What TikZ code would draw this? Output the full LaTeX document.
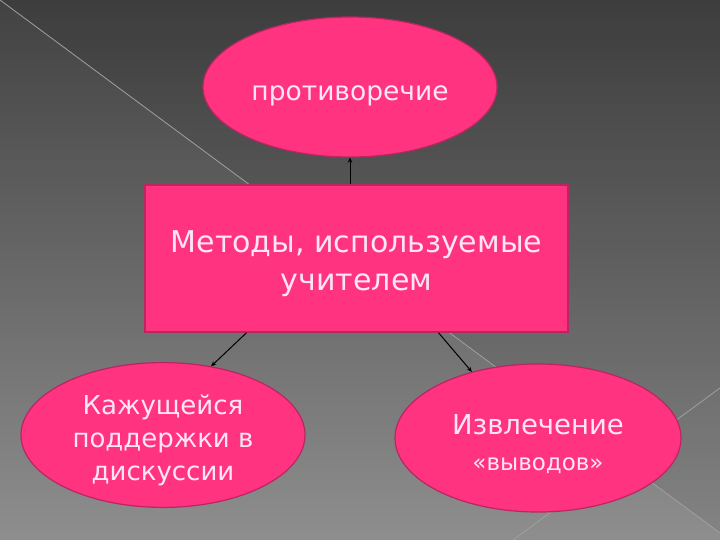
\documentclass[tikz,border=0pt]{standalone}
\usepackage{fontspec}
\setmainfont{DejaVu Sans}
\usetikzlibrary{shapes.geometric, arrows.meta}
\tikzstyle{slide} = [x = 1pt, y = -1pt]
\definecolor{slideTop}{RGB}{66,66,66}
\definecolor{slideBottom}{RGB}{142,142,142}
\definecolor{shapePink}{RGB}{255,51,128}
\definecolor{shapeEdge}{RGB}{185,38,98}
\definecolor{textPink}{RGB}{255,230,242}
\definecolor{stripeColor}{RGB}{160,160,160}
\tikzstyle{ovalStyle} = [ellipse, fill=shapePink, draw=shapeEdge, line width=1.2pt, text=textPink, align=center, inner sep=0pt]
\tikzstyle{boxStyle} = [rectangle, fill=shapePink, draw=shapeEdge, line width=1.5pt, text=textPink, align=center, inner sep=0pt]
\tikzstyle{linkStyle} = [-{Stealth[length=5pt, width=4.5pt]}, black, line width=1pt]
\tikzstyle{stripeStyle} = [stripeColor, line width=0.8pt]
\newcommand{\slideFont}[2]{\fontsize{#1}{#2}\selectfont}
% invisible strut on the first line, pushes the text a bit lower
\newcommand{\topGap}[1]{\rule{0pt}{#1}}

\begin{document}
\begin{tikzpicture}[slide]
  \useasboundingbox (0,0) rectangle (720,540);
  \shade [top color=slideTop, bottom color=slideBottom] (0,0) rectangle (720,540);
  \fill [black, opacity=0.07] (0,0) -- (720,0) -- (720,533) -- cycle;
  \draw [stripeStyle] (0,0) -- (720,533);
  \draw [stripeStyle] (513,540) -- (720,388);

  \node [ovalStyle, minimum width=294pt, minimum height=140pt, font=\slideFont{26.5}{30}] (contra) at (350,87)
    {\topGap{33pt}противоречие};
  \node [boxStyle, minimum width=423pt, minimum height=147pt, font=\slideFont{30}{38}] (methods) at (356.5,258.5)
    {\topGap{32pt}Методы, используемые\\учителем};
  \node [ovalStyle, minimum width=284pt, minimum height=144pt, font=\slideFont{26}{33}] (support) at (163,435)
    {\topGap{31pt}Кажущейся\\поддержки в\\дискуссии};
  \node [ovalStyle, minimum width=286pt, minimum height=148pt, font=\slideFont{27.5}{36}] (conclusions) at (538,438)
    {\topGap{32pt}Извлечение\\{\slideFont{23}{36}«выводов»}};

  \draw [linkStyle] (methods.north -| contra.south) -- (contra.south);
  \draw [linkStyle] ([xshift=-110pt]methods.south) -- (support.55);
  \draw [linkStyle] ([xshift=82pt]methods.south) -- (conclusions.135);
\end{tikzpicture}
\end{document}
